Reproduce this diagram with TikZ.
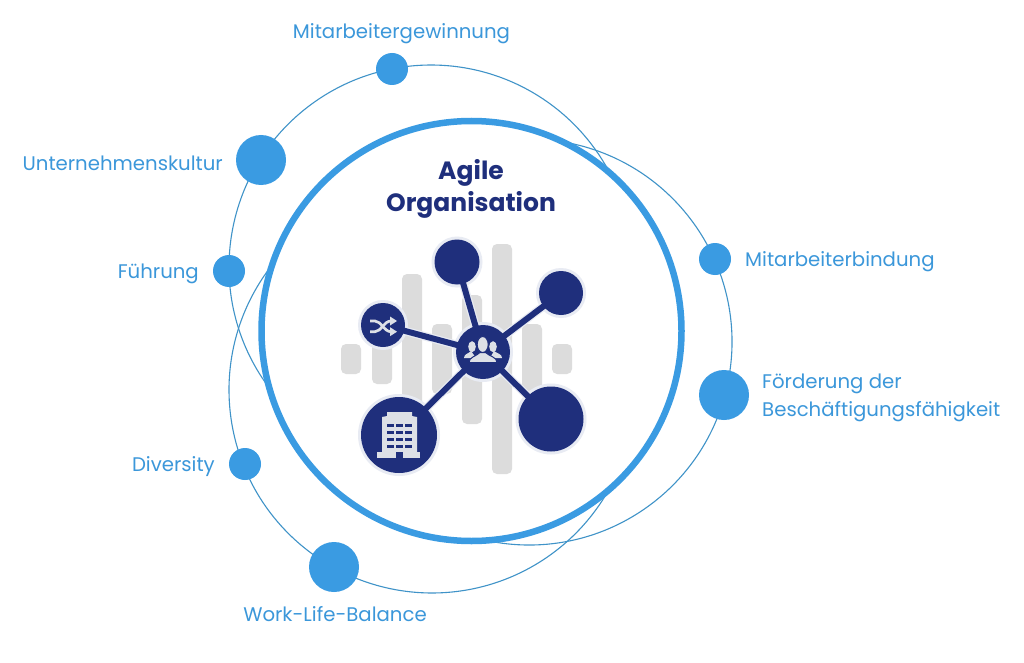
\documentclass[tikz,border=0pt]{standalone}
\usepackage{fontspec}
\setmainfont{Poppins}
\definecolor{navy}{HTML}{1F2F7C}
\definecolor{lblue}{HTML}{3A9BE2}
\definecolor{tblue}{HTML}{3F93C8}
\definecolor{bargray}{HTML}{DCDCDC}
\definecolor{halo}{HTML}{E8EBF3}
\definecolor{icon}{HTML}{DDE0E6}
\definecolor{labelc}{HTML}{3B97DA}
\tikzset{
  thinarc/.style={draw=tblue,line width=1.1pt},
  bar/.style={fill=bargray,rounded corners=5pt},
  dot/.style={circle,fill=lblue,inner sep=0pt,minimum size=#1},
  hubnode/.style={circle,fill=navy,inner sep=0pt,minimum size=#1},
  link/.style={draw=navy,line width=6pt,shorten <=-2pt,shorten >=-2pt},
  lab/.style={text=labelc,font=\fontsize{19.7}{28.3}\selectfont,inner sep=0pt},
  iconfill/.style={fill=icon,draw=none},
}
\begin{document}
\begin{tikzpicture}[x=1pt,y=-1pt]
\useasboundingbox (0,0) rectangle (1024,663);
\fill[white] (0,0) rectangle (1024,663);
% thin orbits
\draw[thinarc] (431,267) ++(143.7:202) arc[start angle=143.7,end angle=333.2,radius=202];
\draw[thinarc] (529,342) ++(-79.9:203) arc[start angle=-79.9,end angle=99,radius=203];
\draw[thinarc] (432,390) ++(216.6:203) arc[start angle=216.6,end angle=31.4,radius=203];
% main ring
\node[circle,draw=lblue,line width=6.5pt,fill=none,inner sep=0pt,minimum size=420pt] (ring) at (471.5,331) {};
% outer dots
\node[dot=32pt] (d1) at (392,69) {};
\node[dot=50pt] (d2) at (261,160) {};
\node[dot=32pt] (d3) at (229,271) {};
\node[dot=32pt] (d4) at (245,464) {};
\node[dot=50pt] (d5) at (334,567) {};
\node[dot=32pt] (d6) at (715,259) {};
\node[dot=50pt] (d7) at (724,395) {};
% labels
\node[lab] (l1) at (401.5,34) {Mitarbeitergewinnung};
\node[lab,anchor=east] (l2) at (223,163) {Unternehmenskultur};
\node[lab,anchor=east] (l3) at (199,274) {Führung};
\node[lab,anchor=east] (l4) at (215,467) {Diversity};
\node[lab] (l5) at (335,614.5) {Work-Life-Balance};
\node[lab,anchor=west] (l6) at (745,262) {Mitarbeiterbindung};
\node[lab,anchor=north west,align=left] (l7) at (762,373.5) {Förderung der\\Beschäftigungsfähigkeit};
% title
\node[text=navy,align=center,font=\fontsize{25}{32}\selectfont\bfseries,inner sep=0pt] (title) at (471,189) {Agile\\Organisation};
% gray bars
\fill[bar] (341,344) rectangle (361,374);
\fill[bar] (372,334) rectangle (392,384);
\fill[bar] (402,274) rectangle (422,444);
\fill[bar] (432,324) rectangle (452,394);
\fill[bar] (462,295) rectangle (482,424);
\fill[bar] (492,244) rectangle (512,474);
\fill[bar] (522,324) rectangle (542,394);
\fill[bar] (552,344) rectangle (572,374);
% network: halos, nodes, then links
\coordinate (hc) at (483,352);
\coordinate (ac) at (457,262);
\coordinate (bc) at (561,293);
\coordinate (cc) at (383,325);
\coordinate (dc) at (399,435);
\coordinate (ec) at (551,419);
\draw[halo,line width=8.5pt] (hc)--(ac) (hc)--(bc) (hc)--(cc) (hc)--(dc) (hc)--(ec);
\fill[halo] (ac) circle (25.5pt) (bc) circle (25pt) (cc) circle (25pt) (dc) circle (41pt) (ec) circle (35.5pt) (hc) circle (30pt);
\node[hubnode=45pt] (a) at (ac) {};
\node[hubnode=44pt] (b) at (bc) {};
\node[hubnode=44pt] (c) at (cc) {};
\node[hubnode=76pt] (d) at (dc) {};
\node[hubnode=65pt] (e) at (ec) {};
\node[hubnode=54pt] (h) at (hc) {};
\draw[link] (h)--(a);
\draw[link] (h)--(b);
\draw[link] (h)--(c);
\draw[link] (h)--(d);
\draw[link] (h)--(e);
% people icon
\fill[iconfill] (472,346.7) ellipse (3.8pt and 5.5pt) (493,346.7) ellipse (3.8pt and 5.5pt);
\fill[iconfill] (464,358) .. controls (464,354) and (468,354) .. (471,351) -- (476,358) -- cycle;
\fill[iconfill] (502,358) .. controls (502,354) and (498,354) .. (494,351) -- (490,358) -- cycle;
\draw[navy,line width=1pt,fill=icon] (482.7,344.5) ellipse (5.5pt and 8pt);
\draw[navy,line width=1pt,fill=icon] (469,362.5) .. controls (469,357) and (476,356.5) .. (480,352.5) -- (485.5,352.5) .. controls (489.5,356.5) and (497,357) .. (497,362.5) -- cycle;
% shuffle icon
\draw[icon,line width=2.7pt] (370,321) -- (375,321) .. controls (381,321) and (384,331.7) .. (391,331.7);
\draw[icon,line width=2.7pt] (370,331.7) -- (375,331.7) .. controls (381,331.7) and (384,321) .. (391,321);
\fill[iconfill] (390,316.5) -- (397,321) -- (390,325.5) -- cycle;
\fill[iconfill] (390,327.2) -- (397,331.7) -- (390,336.2) -- cycle;
% building icon
\fill[iconfill] (387,412) -- (412,412) -- (412,416) -- (417,417) -- (417,453) -- (382,453) -- (382,417) -- (387,416) -- cycle;
\fill[iconfill] (377,452) rectangle (420,457.5);
\fill[navy] (396,451.5) rectangle (403,457.5);
\foreach \wy in {425.5,432.5,439.5,446.5}{\foreach \wx in {390.5,399.5,408.5}{
  \fill[navy] (\wx-3.5,\wy-1.6) rectangle (\wx+3.5,\wy+1.6);}}
\end{tikzpicture}
\end{document}
